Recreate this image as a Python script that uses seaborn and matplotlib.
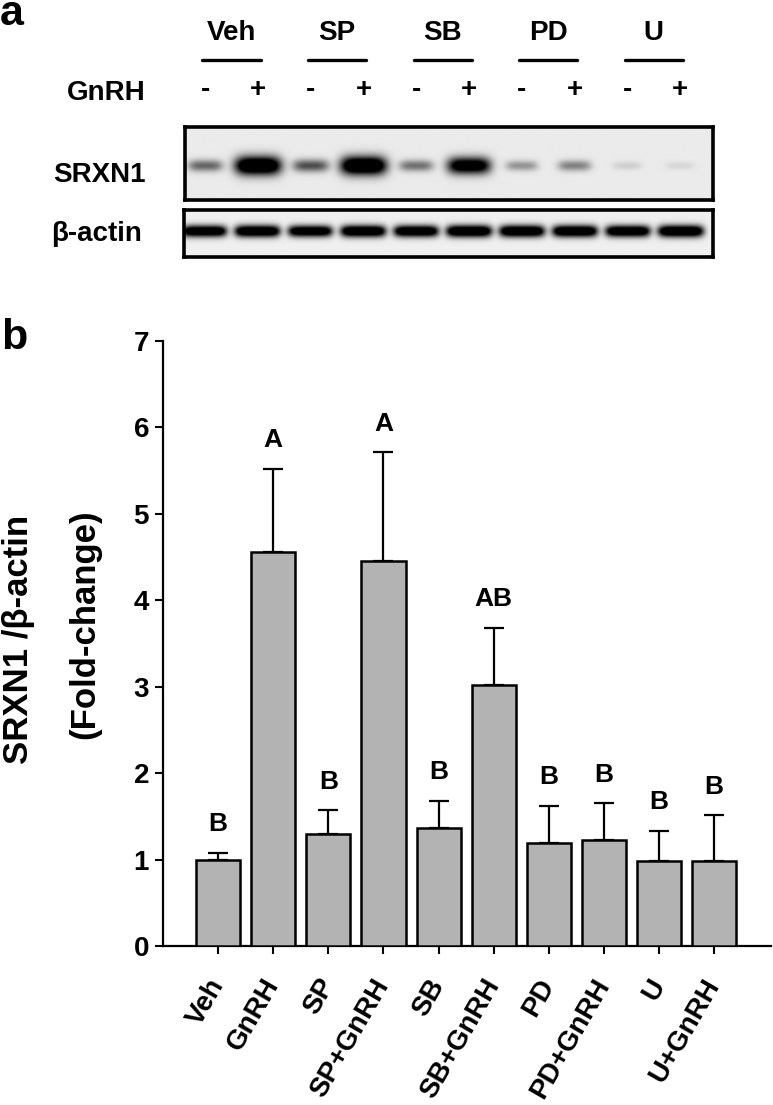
import numpy as np
import pandas as pd
import matplotlib
matplotlib.use('Agg')
import matplotlib.pyplot as plt
import matplotlib.transforms as mtransforms
import seaborn as sns

# bar chart data (panel b)
groups = ['Veh', 'GnRH', 'SP', 'SP+GnRH', 'SB', 'SB+GnRH', 'PD', 'PD+GnRH', 'U', 'U+GnRH']
fold_change = [1.00, 4.56, 1.30, 4.46, 1.37, 3.02, 1.19, 1.23, 0.98, 0.98]
sem = [0.08, 0.96, 0.27, 1.25, 0.31, 0.66, 0.43, 0.42, 0.35, 0.53]
letters = ['B', 'A', 'B', 'A', 'B', 'AB', 'B', 'B', 'B', 'B']
y_ticks = [0, 1, 2, 3, 4, 5, 6, 7]

# western blot (panel a)
treatments = ['Veh', 'SP', 'SB', 'PD', 'U']
gnrh_signs = ['-', '+', '-', '+', '-', '+', '-', '+', '-', '+']
srxn1_band = [0.38, 1.00, 0.45, 1.00, 0.35, 0.85, 0.25, 0.30, 0.08, 0.06]
actin_band = [0.92, 0.95, 0.90, 0.95, 0.93, 0.97, 0.96, 0.95, 0.93, 0.97]

sns.set_style('ticks')
plt.rcParams['font.family'] = ['Liberation Sans', 'DejaVu Sans']
plt.rcParams['font.weight'] = 'bold'
plt.rcParams['text.color'] = 'black'
plt.rcParams['xtick.color'] = 'black'
plt.rcParams['ytick.color'] = 'black'
plt.rcParams['axes.labelcolor'] = 'black'

W, H = 773, 1105
fig = plt.figure(figsize=(W / 100, H / 100), dpi=100)


def box(x0, y0, x1, y1):
    return [x0 / W, 1 - y1 / H, (x1 - x0) / W, (y1 - y0) / H]


def blot_image(levels, yc, power, bg):
    xs = np.linspace(-0.38, 9.62, 700)
    ys = np.linspace(0, 1, 140)
    dark = np.zeros((len(ys), len(xs)))
    for lane, lev in enumerate(levels):
        hw = 0.26 + 0.18 * lev
        hh = 0.05 + 0.08 * lev
        dark += lev * np.exp(-np.abs((xs - lane) / hw) ** power)[None, :] * \
            np.exp(-((ys - yc) / hh) ** 2)[:, None]
    return bg * (1 - np.clip(1.5 * dark, 0, 1))


# ---- panel a ----
ax_s = fig.add_axes(box(185, 127, 713, 200))
ax_b = fig.add_axes(box(184, 210, 713, 257))
for a, levels, yc, p, bg in [(ax_s, srxn1_band, 0.53, 4, 0.92), (ax_b, actin_band, 0.45, 6, 0.94)]:
    a.imshow(blot_image(levels, yc, p, bg), extent=(-0.38, 9.62, 1, 0), cmap='gray',
             vmin=0, vmax=1, aspect='auto', interpolation='bilinear')
    a.set_xlim(-0.38, 9.62)
    a.set_ylim(1, 0)
    a.set_xticks([])
    a.set_yticks([])
    for sp in a.spines.values():
        sp.set_linewidth(2.6)
        sp.set_color('black')

tr = mtransforms.blended_transform_factory(ax_s.transData, fig.transFigure)
for g, name in enumerate(treatments):
    mid = 2 * g + 0.5
    ax_s.text(mid, 1 - 40 / H, name, transform=tr, ha='center', va='baseline',
              fontsize=20, fontweight='bold')
    ax_s.plot([mid - 0.55, mid + 0.55], [1 - 60 / H] * 2, transform=tr,
              color='black', lw=2.4, clip_on=False)
for lane, s in enumerate(gnrh_signs):
    ax_s.text(lane, 1 - 97 / H, s, transform=tr, ha='center', va='baseline',
              fontsize=20, fontweight='bold')

fig.text(146 / W, 1 - 100 / H, 'GnRH', ha='right', va='baseline', fontsize=20, fontweight='bold')
fig.text(146 / W, 1 - 182 / H, 'SRXN1', ha='right', va='baseline', fontsize=20, fontweight='bold')
fig.text(142 / W, 1 - 241 / H, 'β-actin', ha='right', va='baseline', fontsize=20, fontweight='bold')
fig.text(0 / W, 1 - 25 / H, 'a', ha='left', va='baseline', fontsize=31, fontweight='bold')
fig.text(1 / W, 1 - 349 / H, 'b', ha='left', va='baseline', fontsize=31, fontweight='bold')

# ---- panel b ----
ax = fig.add_axes(box(163, 341, 771, 946))
df = pd.DataFrame({'group': groups, 'fold': fold_change})
sns.barplot(data=df, x='group', y='fold', order=groups, color='#b3b3b3', saturation=1,
            edgecolor='black', linewidth=1.8, width=0.8, errorbar=None, ax=ax, zorder=3)
ax.errorbar(np.arange(len(groups)), fold_change, yerr=[np.zeros(len(sem)), sem],
            fmt='none', ecolor='black', elinewidth=1.6, capsize=7.5, capthick=1.6, zorder=2)
for i, (m, e, t) in enumerate(zip(fold_change, sem, letters)):
    ax.annotate(t, (i, m + e), xytext=(0, 12), textcoords='offset points',
                ha='center', va='bottom', fontsize=19, fontweight='bold')

ax.set_xlim(-1.0, 10.03)
ax.set_ylim(0, 7)
ax.set_yticks(y_ticks)
ax.set_yticklabels([str(t) for t in y_ticks], fontsize=20, fontweight='bold')
ax.set_xticks(np.arange(len(groups)))
ax.set_xticklabels(groups, fontsize=20, fontweight='bold', rotation=60,
                   ha='right', va='center', rotation_mode='anchor')
shift = mtransforms.ScaledTranslation(-5 / 100, 0, fig.dpi_scale_trans)
for lbl in ax.get_xticklabels():
    lbl.set_transform(lbl.get_transform() + shift)
ax.set_xlabel('')
ax.set_ylabel('')
ax.tick_params(axis='both', direction='out', length=6, width=1.5, color='black', pad=4)
ax.tick_params(axis='x', pad=19)
sns.despine(ax=ax)
for side in ['left', 'bottom']:
    ax.spines[side].set_linewidth(1.6)
    ax.spines[side].set_color('black')

fig.text(19 / W, 1 - 639 / H, 'SRXN1 /β-actin', rotation=90, ha='center', va='center',
         fontsize=25, fontweight='bold')
fig.text(85 / W, 1 - 624 / H, '(Fold-change)', rotation=90, ha='center', va='center',
         fontsize=25, fontweight='bold')

fig.savefig('out.png', dpi=100)
